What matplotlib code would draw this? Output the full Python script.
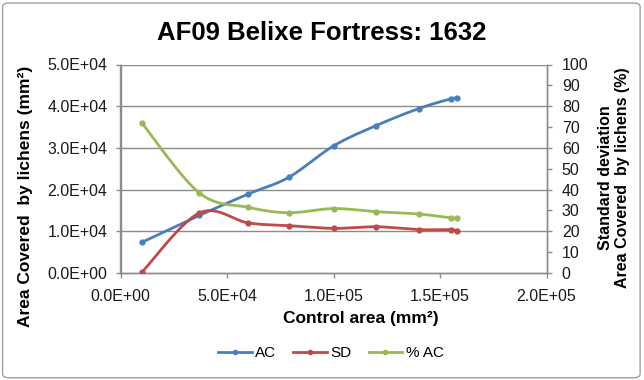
import numpy as np
import matplotlib
matplotlib.use("Agg")
import matplotlib.pyplot as plt
from matplotlib.patches import FancyBboxPatch
from matplotlib.lines import Line2D

plt.rcParams['font.family'] = ['Liberation Sans', 'DejaVu Sans']

# Control area (mm²)
control_area = [10000, 37000, 60000, 79000, 100000, 120000, 140000, 155000, 158000]
# Area covered by lichens (mm²)
ac = [7350, 13800, 18950, 22950, 30470, 35350, 39430, 41750, 41910]
# Standard deviation (%)
sd = [0.3, 28.8, 24.0, 22.7, 21.4, 22.2, 20.8, 20.8, 20.0]
# Area covered by lichens (%)
pct_ac = [72.0, 38.4, 31.5, 28.9, 30.9, 29.4, 28.3, 26.5, 26.5]

x_ticks = [0, 50000, 100000, 150000, 200000]
x_labels = ["0.0E+00", "5.0E+04", "1.0E+05", "1.5E+05", "2.0E+05"]
y_ticks = [0, 10000, 20000, 30000, 40000, 50000]
y_labels = ["0.0E+00", "1.0E+04", "2.0E+04", "3.0E+04", "4.0E+04", "5.0E+04"]
y2_ticks = list(range(0, 101, 10))

C_AC = "#4A7EBB"
C_SD = "#BE4B48"
C_PCT = "#98B954"
GRID = "#8C8C8C"

XLIM = (0, 200000)
YLIM = (0, 50000)
Y2LIM = (0, 100)

W, H = 644, 380


def smooth(xs, ys, xlim, ylim, aspect, n=30):
    """Smoothed line through points (Catmull-Rom style Bezier, computed in
    normalised screen space)."""
    px = (np.asarray(xs, float) - xlim[0]) / (xlim[1] - xlim[0]) * aspect
    py = (np.asarray(ys, float) - ylim[0]) / (ylim[1] - ylim[0])
    P = np.column_stack([px, py])
    out = [P[0]]
    for i in range(len(P) - 1):
        p0 = P[i - 1] if i > 0 else P[i]
        p1 = P[i]
        p2 = P[i + 1]
        p3 = P[i + 2] if i + 2 < len(P) else P[i + 1]
        c1 = p1 + (p2 - p0) / 6.0
        c2 = p2 - (p3 - p1) / 6.0
        t = np.linspace(0, 1, n)[1:, None]
        seg = ((1 - t) ** 3) * p1 + 3 * ((1 - t) ** 2) * t * c1 + 3 * (1 - t) * t ** 2 * c2 + t ** 3 * p2
        out.extend(seg)
    out = np.array(out)
    sx = out[:, 0] / aspect * (xlim[1] - xlim[0]) + xlim[0]
    sy = out[:, 1] * (ylim[1] - ylim[0]) + ylim[0]
    return sx, sy


fig = plt.figure(figsize=(W / 100, H / 100), dpi=100)
L, R, B, T = 120.5 / W, 546.5 / W, 1 - 273 / H, 1 - 64.5 / H
ax = fig.add_axes([L, B, R - L, T - B])
ax2 = ax.twinx()
aspect = (R - L) * W / ((T - B) * H)

# chart border
fig.patches.append(FancyBboxPatch((0.004, 0.006), 0.99, 0.986,
                                  boxstyle="round,pad=0,rounding_size=0.01",
                                  transform=fig.transFigure, fill=False,
                                  edgecolor="#A0A0A0", linewidth=1.0))

ax.set_xlim(*XLIM)
ax.set_ylim(*YLIM)
ax2.set_ylim(*Y2LIM)

for y in y_ticks[1:]:
    ax.axhline(y, color=GRID, linewidth=1.0, zorder=0)

lw = 2.0
ms = 3.5
sx, sy = smooth(control_area, ac, XLIM, YLIM, aspect)
ax.plot(sx, sy, color=C_AC, lw=lw, zorder=3, solid_capstyle='round')
ax.plot(control_area, ac, 'o', color=C_AC, ms=ms, zorder=4)

sx, sy = smooth(control_area, sd, XLIM, Y2LIM, aspect)
ax2.plot(sx, sy, color=C_SD, lw=lw, zorder=3, solid_capstyle='round')
ax2.plot(control_area, sd, 'o', color=C_SD, ms=ms, zorder=4)

sx, sy = smooth(control_area, pct_ac, XLIM, Y2LIM, aspect)
ax2.plot(sx, sy, color=C_PCT, lw=lw, zorder=3, solid_capstyle='round')
ax2.plot(control_area, pct_ac, 'o', color=C_PCT, ms=ms, zorder=4)

ax.set_xticks(x_ticks)
ax.set_xticklabels(x_labels)
ax.set_yticks(y_ticks)
ax.set_yticklabels(y_labels)
ax2.set_yticks(y2_ticks)

for a in (ax, ax2):
    for s in a.spines.values():
        s.set_color(GRID)
        s.set_linewidth(1.0)
    a.spines['top'].set_visible(False)
    a.tick_params(colors=GRID, labelcolor="#1a1a1a", labelsize=11.5,
                  length=3.5, width=1.0, direction='out')
ax.tick_params(axis='x', pad=8)
ax.tick_params(axis='y', pad=6)
ax2.tick_params(axis='y', pad=7.5)

# axis titles
fig.text(361 / W, 1 - 319 / H, "Control area (mm²)", ha='center', va='center',
         fontsize=12.5, fontweight='bold')
fig.text(26 / W, 1 - 196 / H, "Area Covered  by lichens (mm²)", ha='center', va='center',
         rotation=90, fontsize=12.5, fontweight='bold')
fig.text(614 / W, 1 - 178 / H, "Standard deviation\nArea Covered  by lichens (%)",
         ha='center', va='center', rotation=90, fontsize=11.5, fontweight='bold',
         linespacing=1.1, multialignment='center')

fig.text(0.5, 1 - 33 / H, "AF09 Belixe Fortress: 1632", ha='center', va='center',
         fontsize=18.5, fontweight='bold')

handles = [Line2D([], [], color=c, lw=2, marker='o', ms=3) for c in (C_AC, C_SD, C_PCT)]
fig.legend(handles, ["AC", "SD", "% AC"], loc='center', bbox_to_anchor=(331 / W, 1 - 353 / H),
           ncol=3, frameon=False, fontsize=11, handlelength=2.2, columnspacing=1.1,
           handletextpad=0.25, borderaxespad=0)

fig.savefig("out.png", dpi=100)
